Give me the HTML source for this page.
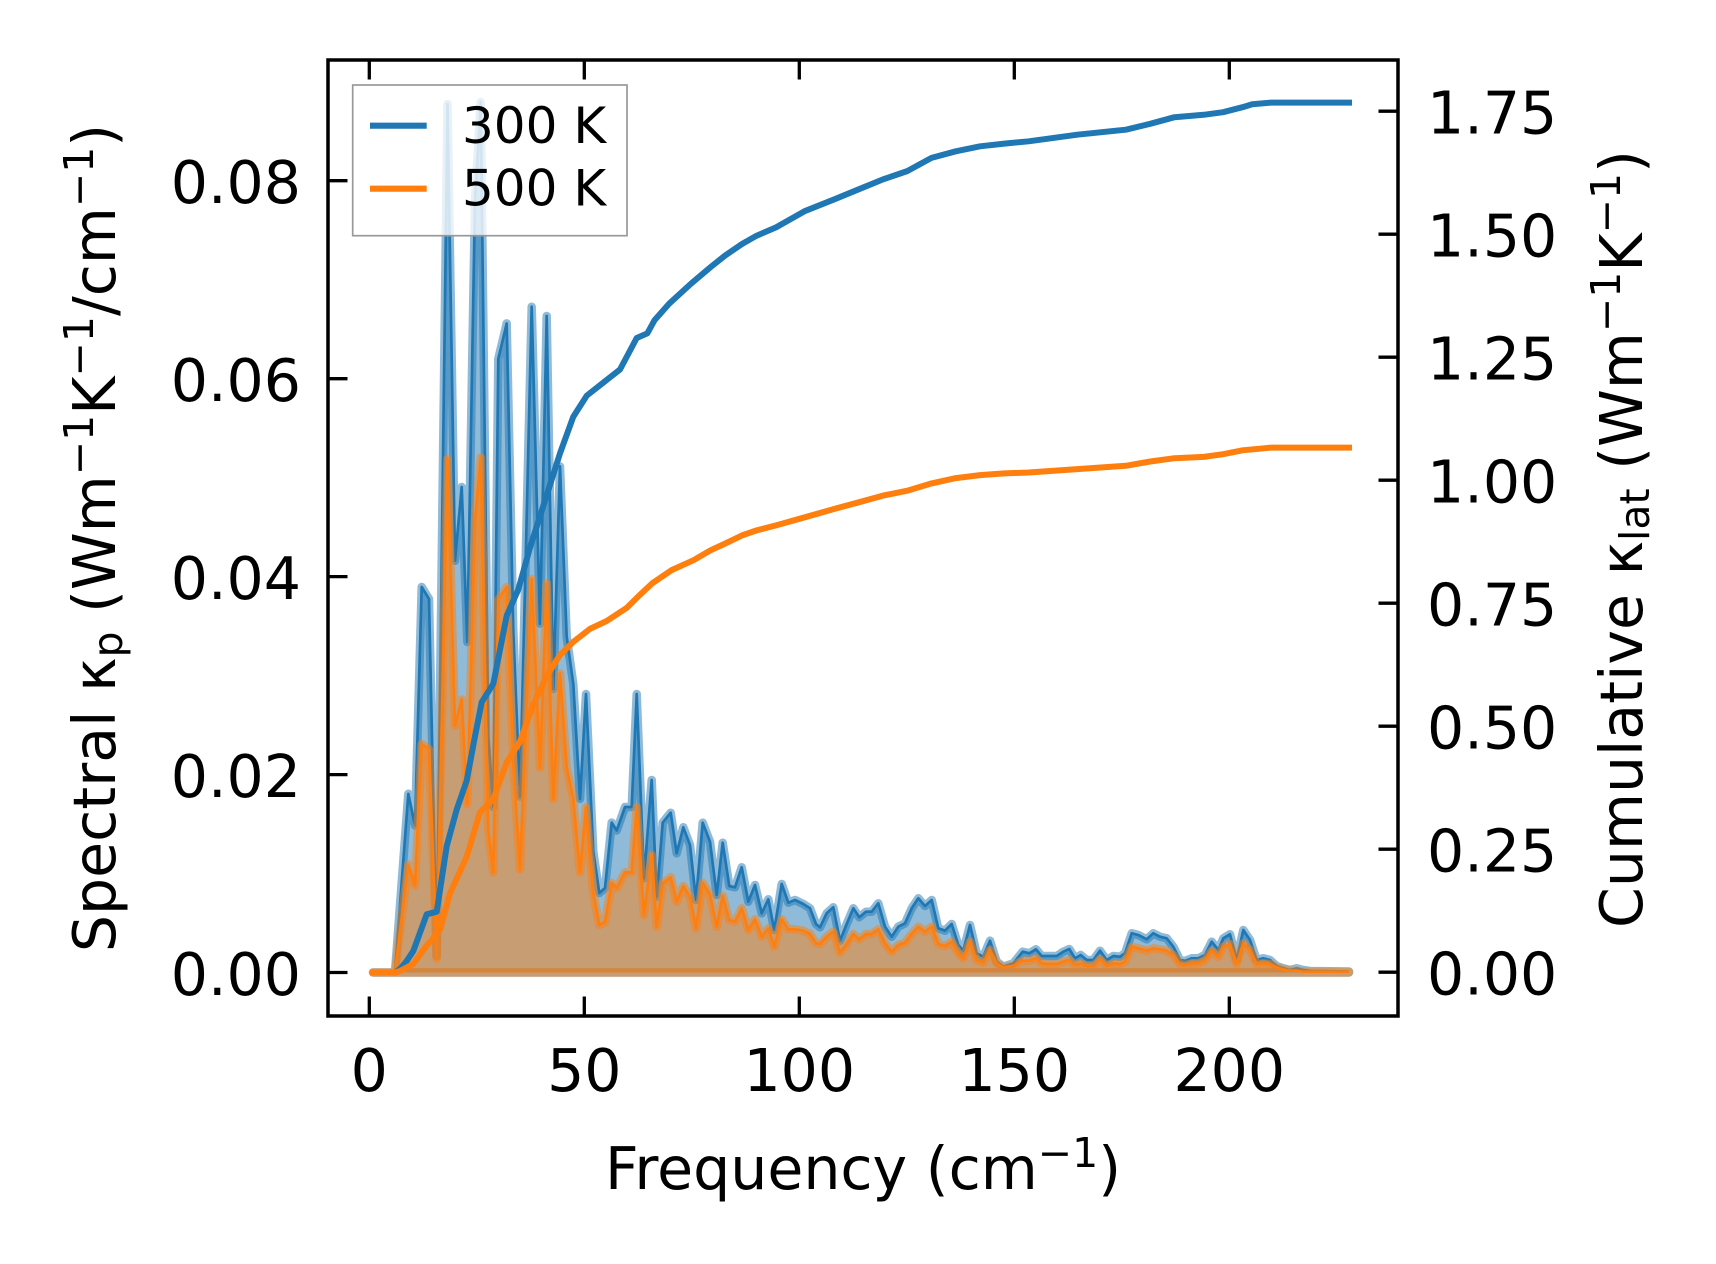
<!DOCTYPE html>
<html>
<head>
<meta charset="utf-8">
<style>
html,body{margin:0;padding:0;background:#ffffff;}
svg{display:block;}
text{font-family:"DejaVu Sans","Liberation Sans",sans-serif;fill:#000;}
</style>
</head>
<body>
<svg width="1716" height="1264" viewBox="0 0 1716 1264" xmlns="http://www.w3.org/2000/svg">
<defs>
<clipPath id="ax"><rect x="328" y="60" width="1070" height="956"/></clipPath>
</defs>
<rect x="0" y="0" width="1716" height="1264" fill="#ffffff"/>

<g clip-path="url(#ax)">
<!-- 300 K spectral -->
<polygon fill="#1f77b4" fill-opacity="0.5" stroke="#1f77b4" stroke-opacity="0.5" stroke-width="8.5" stroke-linejoin="round"
points="373,972.5 395,972.5 408.3,793.8 415,825.4 421.7,587 429,599 436.7,956 447.5,104 455,560.7 461.7,487 467.3,642 475,200 480.7,102 488.3,736 493.3,807 498.3,359 506.7,323.4 513.3,631 520,796.5 531.7,306.7 540,623.6 546.7,316 553.3,689 560,466.4 566.7,636.7 573.3,684 580,799 586,694 593.3,851.5 599.3,893 605,888 611.7,822.6 616.7,830.5 625,807 631.7,807 636.7,694 644,878.3 651.7,780 656.7,896.7 662.7,822.7 670.7,812.7 676.7,853.3 683.3,827.3 690,845 696,900 702.7,822.7 710,841.7 716.7,895 722.7,842.7 729.3,886 735,887.3 741.7,867.3 748.3,901.7 755,885 761.7,913.3 768.3,899.3 774.3,930 781.7,884 788.3,902.7 795,900 803.3,904 810,908.3 816,924 820,927.3 826.7,913.3 833.3,907.3 840,940.7 846.7,924 853.3,908.3 859.3,917.3 866,911.7 871.7,911.7 878.3,903.3 885,926.7 891.7,936.7 898.3,926.7 905,923.3 911.7,908.3 918.3,898.3 925,906 931.7,900 938.3,928.3 945,930.7 951.7,924 958.3,945 963.3,950.7 970,925 976.7,953.3 983.3,956.7 990,940.7 996.7,961.7 1003.3,966.7 1013.3,963.3 1022.7,951.7 1029.3,953.3 1036,949.3 1041.7,956 1050,956 1056.7,956 1063.3,951.7 1069.3,949 1075,958.3 1080.7,955 1086.7,960 1093.3,960 1100,950.7 1106.7,960 1113.3,956 1120,956.7 1125,953.3 1131.7,933.3 1138.3,935 1146.7,939.3 1153.3,933.3 1160,936.7 1166.7,938.3 1173.3,946.7 1180,960 1185,961 1191.7,958.3 1198.3,958.3 1205,955 1211.7,941.7 1218.3,950 1223.3,938.3 1230,934.3 1236.7,960 1243.3,930 1250,940 1256.7,960 1263.3,958.3 1270,960 1276.7,966 1283.3,968.3 1290,970 1296.7,968.3 1303.3,970 1310,971 1349,971.5 1349,972.5 373,972.5"/>
<polyline fill="none" stroke="#1f77b4" stroke-width="2.7" stroke-linejoin="round"
points="373,972.5 395,972.5 408.3,793.8 415,825.4 421.7,587 429,599 436.7,956 447.5,104 455,560.7 461.7,487 467.3,642 475,200 480.7,102 488.3,736 493.3,807 498.3,359 506.7,323.4 513.3,631 520,796.5 531.7,306.7 540,623.6 546.7,316 553.3,689 560,466.4 566.7,636.7 573.3,684 580,799 586,694 593.3,851.5 599.3,893 605,888 611.7,822.6 616.7,830.5 625,807 631.7,807 636.7,694 644,878.3 651.7,780 656.7,896.7 662.7,822.7 670.7,812.7 676.7,853.3 683.3,827.3 690,845 696,900 702.7,822.7 710,841.7 716.7,895 722.7,842.7 729.3,886 735,887.3 741.7,867.3 748.3,901.7 755,885 761.7,913.3 768.3,899.3 774.3,930 781.7,884 788.3,902.7 795,900 803.3,904 810,908.3 816,924 820,927.3 826.7,913.3 833.3,907.3 840,940.7 846.7,924 853.3,908.3 859.3,917.3 866,911.7 871.7,911.7 878.3,903.3 885,926.7 891.7,936.7 898.3,926.7 905,923.3 911.7,908.3 918.3,898.3 925,906 931.7,900 938.3,928.3 945,930.7 951.7,924 958.3,945 963.3,950.7 970,925 976.7,953.3 983.3,956.7 990,940.7 996.7,961.7 1003.3,966.7 1013.3,963.3 1022.7,951.7 1029.3,953.3 1036,949.3 1041.7,956 1050,956 1056.7,956 1063.3,951.7 1069.3,949 1075,958.3 1080.7,955 1086.7,960 1093.3,960 1100,950.7 1106.7,960 1113.3,956 1120,956.7 1125,953.3 1131.7,933.3 1138.3,935 1146.7,939.3 1153.3,933.3 1160,936.7 1166.7,938.3 1173.3,946.7 1180,960 1185,961 1191.7,958.3 1198.3,958.3 1205,955 1211.7,941.7 1218.3,950 1223.3,938.3 1230,934.3 1236.7,960 1243.3,930 1250,940 1256.7,960 1263.3,958.3 1270,960 1276.7,966 1283.3,968.3 1290,970 1296.7,968.3 1303.3,970 1310,971 1349,971.5"/>

<!-- 500 K spectral -->
<polygon fill="#ff7f0e" fill-opacity="0.5" stroke="#ff7f0e" stroke-opacity="0.5" stroke-width="8.5" stroke-linejoin="round"
points="373,972.5 395,972.5 408.3,864.5 415,885.5 421.7,744 429,749.3 436.7,958.8 447.5,458.6 455,725.7 461.7,699.5 467.3,804.3 475,521.4 480.7,457.5 488.3,830.5 493.3,872.4 498.3,600 506.7,587 513.3,762.4 520,869.8 531.7,579 540,767.6 546.7,583.3 553.3,799 560,673.4 566.7,767.6 573.3,799 580,872.4 586,807 593.3,893.4 599.3,924.8 605,922.2 611.7,882.9 616.7,888.1 625,872.4 631.7,872.4 636.7,807 644,915 651.7,855 656.7,926.7 662.7,883.3 670.7,877.3 676.7,901.7 683.3,886 690,896.7 696,928.3 702.7,882.7 710,895 716.7,926.7 722.7,896 729.3,920 735,921.7 741.7,908.3 748.3,930 755,919.3 761.7,936.7 768.3,928.3 774.3,946.7 781.7,919.3 788.3,929.3 795,929.3 803.3,930.7 810,934 816,943.3 820,944 826.7,936.7 833.3,931.7 840,952.7 846.7,944 853.3,934 859.3,939.3 866,934 871.7,934 878.3,929.3 885,943.3 891.7,951.7 898.3,945 905,942.7 911.7,934 918.3,926.7 925,931.7 931.7,926.7 938.3,944 945,946 951.7,941.7 958.3,953.3 963.3,958.3 970,941.7 976.7,960 983.3,962.7 990,950 996.7,963.3 1003.3,967.3 1013.3,966 1020,961.7 1023.3,960.7 1029.3,960.7 1036,958.3 1041.7,963.3 1050,964 1056.7,964 1063.3,961.7 1069.3,960 1075,965 1080.7,963.3 1086.7,966 1093.3,966 1100,959.3 1106.7,966 1113.3,963.3 1120,964 1125,961.7 1131.7,946.7 1138.3,948.3 1146.7,950.7 1153.3,948.3 1160,949.3 1166.7,950.7 1173.3,955 1180,964 1185,965 1191.7,963.3 1198.3,963.3 1205,960 1211.7,950.7 1218.3,956.7 1223.3,946.7 1230,944 1236.7,964 1243.3,943.3 1250,950 1256.7,964 1263.3,963.3 1270,964 1276.7,967.3 1283.3,969.3 1290,970.7 1296.7,970.7 1303.3,971.7 1349,971.7 1349,972.5 373,972.5"/>
<polyline fill="none" stroke="#ff7f0e" stroke-width="2.7" stroke-linejoin="round"
points="373,972.5 395,972.5 408.3,864.5 415,885.5 421.7,744 429,749.3 436.7,958.8 447.5,458.6 455,725.7 461.7,699.5 467.3,804.3 475,521.4 480.7,457.5 488.3,830.5 493.3,872.4 498.3,600 506.7,587 513.3,762.4 520,869.8 531.7,579 540,767.6 546.7,583.3 553.3,799 560,673.4 566.7,767.6 573.3,799 580,872.4 586,807 593.3,893.4 599.3,924.8 605,922.2 611.7,882.9 616.7,888.1 625,872.4 631.7,872.4 636.7,807 644,915 651.7,855 656.7,926.7 662.7,883.3 670.7,877.3 676.7,901.7 683.3,886 690,896.7 696,928.3 702.7,882.7 710,895 716.7,926.7 722.7,896 729.3,920 735,921.7 741.7,908.3 748.3,930 755,919.3 761.7,936.7 768.3,928.3 774.3,946.7 781.7,919.3 788.3,929.3 795,929.3 803.3,930.7 810,934 816,943.3 820,944 826.7,936.7 833.3,931.7 840,952.7 846.7,944 853.3,934 859.3,939.3 866,934 871.7,934 878.3,929.3 885,943.3 891.7,951.7 898.3,945 905,942.7 911.7,934 918.3,926.7 925,931.7 931.7,926.7 938.3,944 945,946 951.7,941.7 958.3,953.3 963.3,958.3 970,941.7 976.7,960 983.3,962.7 990,950 996.7,963.3 1003.3,967.3 1013.3,966 1020,961.7 1023.3,960.7 1029.3,960.7 1036,958.3 1041.7,963.3 1050,964 1056.7,964 1063.3,961.7 1069.3,960 1075,965 1080.7,963.3 1086.7,966 1093.3,966 1100,959.3 1106.7,966 1113.3,963.3 1120,964 1125,961.7 1131.7,946.7 1138.3,948.3 1146.7,950.7 1153.3,948.3 1160,949.3 1166.7,950.7 1173.3,955 1180,964 1185,965 1191.7,963.3 1198.3,963.3 1205,960 1211.7,950.7 1218.3,956.7 1223.3,946.7 1230,944 1236.7,964 1243.3,943.3 1250,950 1256.7,964 1263.3,963.3 1270,964 1276.7,967.3 1283.3,969.3 1290,970.7 1296.7,970.7 1303.3,971.7 1349,971.7"/>

<!-- cumulative 300 K -->
<polyline fill="none" stroke="#1f77b4" stroke-width="6" stroke-linejoin="round" stroke-linecap="square"
points="373,972.5 395,972.5 400,969 406.7,961 413.3,951 426.7,914.3 436.7,911.7 446.7,846.2 456.7,809.5 466.7,780.7 475,736.2 481.7,702.2 493.3,683.8 506.7,615.7 518.3,589.5 530,547.6 546.7,495.3 560,453.3 573.3,416.7 586.7,395.7 603.3,382.6 620,369.5 636.7,338 647.3,333.4 654.6,320.1 669.2,303.6 691,283.7 710.5,267.2 725,255.6 742,244 756.6,235.7 776,227.4 805.2,210.9 834.4,199.3 858.7,189.3 883,179.4 907.2,171.1 931.5,157.9 955.8,151.3 980.1,146.3 1004.4,143.6 1028.7,141.3 1077.3,134.7 1125.9,129.7 1150.2,123.8 1174.5,117.2 1203.7,114.8 1223.1,112.2 1242.5,107.2 1252.2,104.2 1271.7,102.6 1349,102.6"/>
<!-- cumulative 500 K -->
<polyline fill="none" stroke="#ff7f0e" stroke-width="6" stroke-linejoin="round" stroke-linecap="square"
points="373,972.5 395,972.5 400,971 413.3,964 426.7,945.7 440,930 450,893.4 466.7,856.7 480,812.2 493.3,799.1 506.7,762.4 520,741.5 533.3,704.8 546.7,676 560,655 573.3,641.9 590,628.8 606.7,621 626.7,607.9 640,594.8 652.1,583.4 671.6,570.1 693.5,560.2 710.5,550.3 725,543.6 742,535.4 756.6,530.4 776,525.4 805.2,517.2 834.4,508.9 858.7,502.3 883,495.6 907.2,490.7 931.5,483.4 955.8,478.1 980.1,475.1 1004.4,473.4 1028.7,472.5 1077.3,469.1 1125.9,465.8 1150.2,461.5 1174.5,458.2 1203.7,456.9 1223.1,454.2 1242.5,450.3 1271.7,447.6 1349,447.6"/>
</g>

<!-- spines -->
<rect x="328" y="60" width="1070" height="956" fill="none" stroke="#000" stroke-width="3.5"/>

<!-- ticks -->
<path stroke="#000" stroke-width="3.3" fill="none" d="
M369.3,1016V996.5 M584.3,1016V996.5 M799.3,1016V996.5 M1014.3,1016V996.5 M1229.3,1016V996.5
M369.3,60V79.5 M584.3,60V79.5 M799.3,60V79.5 M1014.3,60V79.5 M1229.3,60V79.5
M328,972.5H347.5 M328,774.6H347.5 M328,576.6H347.5 M328,378.7H347.5 M328,180.7H347.5
M1398,972.2H1378.5 M1398,849.2H1378.5 M1398,726.2H1378.5 M1398,603.2H1378.5 M1398,480.2H1378.5 M1398,357.2H1378.5 M1398,234.2H1378.5 M1398,111.2H1378.5"/>

<!-- bottom tick labels -->
<g font-size="58.5" text-anchor="middle">
<text x="369.3" y="1091">0</text>
<text x="584.3" y="1091">50</text>
<text x="799.3" y="1091">100</text>
<text x="1014.3" y="1091">150</text>
<text x="1229.3" y="1091">200</text>
</g>

<!-- left tick labels -->
<g font-size="58.5" text-anchor="end">
<text x="301" y="995">0.00</text>
<text x="301" y="797.1">0.02</text>
<text x="301" y="599.1">0.04</text>
<text x="301" y="401.2">0.06</text>
<text x="301" y="203.2">0.08</text>
</g>

<!-- right tick labels -->
<g font-size="58.5" text-anchor="start">
<text x="1427" y="994.7">0.00</text>
<text x="1427" y="871.7">0.25</text>
<text x="1427" y="748.7">0.50</text>
<text x="1427" y="625.7">0.75</text>
<text x="1427" y="502.7">1.00</text>
<text x="1427" y="379.7">1.25</text>
<text x="1427" y="256.7">1.50</text>
<text x="1427" y="133.7">1.75</text>
</g>

<!-- x label -->
<text x="863" y="1189" font-size="58.5" text-anchor="middle">Frequency (cm<tspan font-size="41" dy="-22">−1</tspan><tspan dy="22">)</tspan></text>

<!-- left y label -->
<text transform="translate(115,538) rotate(-90)" font-size="58.5" text-anchor="middle">Spectral κ<tspan font-size="41" dy="7">p</tspan><tspan dy="-7"> (Wm</tspan><tspan font-size="41" dy="-22">−1</tspan><tspan dy="22">K</tspan><tspan font-size="41" dy="-22">−1</tspan><tspan dy="22">/cm</tspan><tspan font-size="41" dy="-22">−1</tspan><tspan dy="22">)</tspan></text>

<!-- right y label -->
<text transform="translate(1642,539) rotate(-90)" font-size="58.5" text-anchor="middle">Cumulative κ<tspan font-size="41" dy="7">lat</tspan><tspan dy="-7"> (Wm</tspan><tspan font-size="41" dy="-22">−1</tspan><tspan dy="22">K</tspan><tspan font-size="41" dy="-22">−1</tspan><tspan dy="22">)</tspan></text>

<!-- legend -->
<rect x="352.7" y="85" width="274.3" height="150.7" fill="#ffffff" fill-opacity="0.8" stroke="#999999" stroke-width="1.7"/>
<line x1="370" y1="125.7" x2="426.7" y2="125.7" stroke="#1f77b4" stroke-width="6.2"/>
<line x1="370" y1="188.7" x2="426.7" y2="188.7" stroke="#ff7f0e" stroke-width="6.2"/>
<text x="462" y="143" font-size="50">300 K</text>
<text x="462" y="205.7" font-size="50">500 K</text>
</svg>
</body>
</html>
